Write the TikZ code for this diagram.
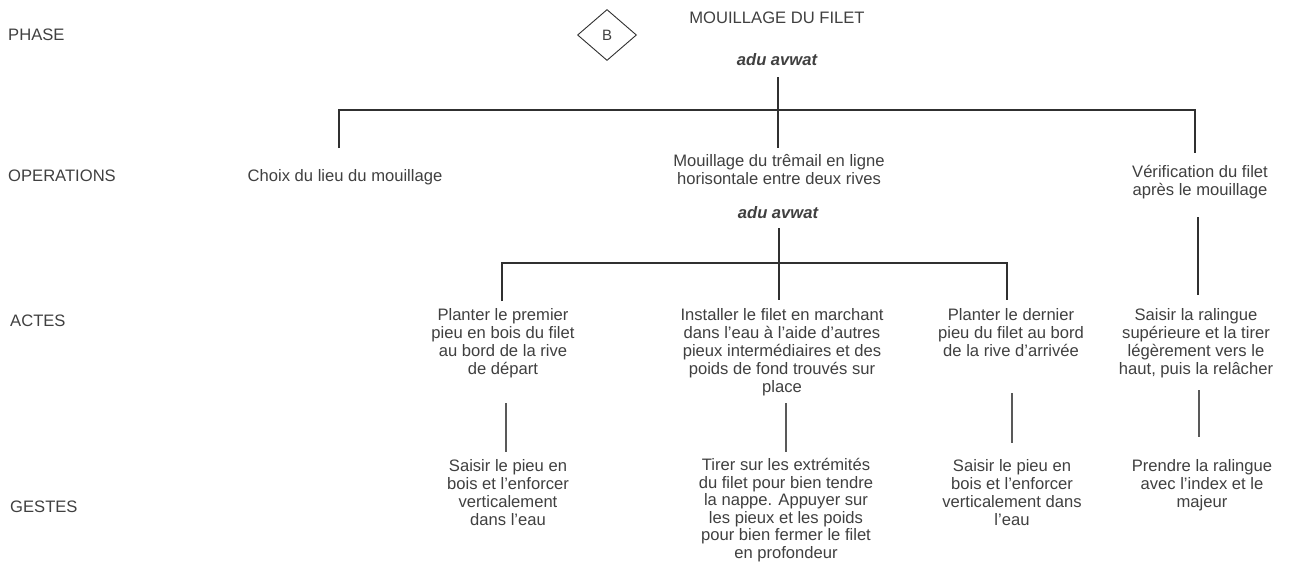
\documentclass[tikz,border=0pt]{standalone}
\usepackage{fontspec}
\setmainfont{Liberation Sans}
\usetikzlibrary{shapes.geometric}
\definecolor{txtc}{HTML}{404040}
\definecolor{lnc}{HTML}{303030}
\begin{document}
\begin{tikzpicture}[x=1pt,y=-1pt,
  txt/.style={inner sep=0pt, align=center, text=txtc, font=\fontsize{16.6}{18}\selectfont},
  lbl/.style={inner sep=0pt, anchor=west, text=txtc, font=\fontsize{16.6}{18}\selectfont},
  tribe/.style={inner sep=0pt, text=txtc, font=\fontsize{16.6}{18}\selectfont\bfseries\itshape},
  ln/.style={draw=lnc, line width=1.2pt},
  thin/.style={draw=lnc!80, line width=1.1pt}]
\useasboundingbox (0,0) rectangle (1295,562);
\fill[white] (0,0) rectangle (1295,562);

% row labels
\node[lbl] (lphase) at (8,35) {PHASE};
\node[lbl] (lops) at (8,176) {OPERATIONS};
\node[lbl] (lactes) at (10,321) {ACTES};
\node[lbl] (lgestes) at (10,507) {GESTES};

% phase
\node[diamond, draw=lnc, line width=0.9pt, minimum width=59pt, minimum height=51pt, inner sep=0pt, text=txtc, font=\fontsize{15}{16}\selectfont] (dB) at (607,35) {B};
\node[txt] (title) at (777,18) {MOUILLAGE DU FILET};
\node[tribe] (adu1) at (777,60) {adu avwat};

% operations
\node[txt, anchor=north] (choix) at (345,169.5) {Choix du lieu du mouillage};
\node[txt, anchor=north] (mouil) at (779,154.5) {Mouillage du trêmail en ligne\\horisontale entre deux rives};
\node[tribe] (adu2) at (778,213) {adu avwat};
\node[txt, anchor=north] (verif) at (1200,165.5) {Vérification du filet\\après le mouillage};

% actes
\node[txt, anchor=north] (act1) at (503,308.5) {Planter le premier\\pieu en bois du filet\\au bord de la rive\\de départ};
\node[txt, anchor=north] (act2) at (782,308.5) {Installer le filet en marchant\\dans l'eau à l'aide d'autres\\pieux intermédiaires et des\\poids de fond trouvés sur\\place};
\node[txt, anchor=north] (act3) at (1011,308.5) {Planter le dernier\\pieu du filet au bord\\de la rive d'arrivée};
\node[txt, anchor=north] (act4) at (1196,308.5) {Saisir la ralingue\\supérieure et la tirer\\légèrement vers le\\haut, puis la relâcher};

% gestes
\node[txt, anchor=north] (g1) at (508,459.5) {Saisir le pieu en\\bois et l'enforcer\\verticalement\\dans l'eau};
\node[txt, anchor=north, font=\fontsize{16.6}{17.5}\selectfont] (g2) at (786,458.5) {Tirer sur les extrémités\\du filet pour bien tendre\\la nappe. Appuyer sur\\les pieux et les poids\\pour bien fermer le filet\\en profondeur};
\node[txt, anchor=north] (g3) at (1012,459.5) {Saisir le pieu en\\bois et l'enforcer\\verticalement dans\\l'eau};
\node[txt, anchor=north] (g4) at (1202,459.5) {Prendre la ralingue\\avec l'index et le\\majeur};

% connector end points
\coordinate (pA) at (778,77);
\coordinate (pB) at (778,148);
\coordinate (bL) at (339,110);
\coordinate (bR) at (1195,110);
\coordinate (cL) at (339,148);
\coordinate (cR) at (1195,153);

\coordinate (qA) at (779,228);
\coordinate (qB) at (779,300);
\coordinate (aL) at (502,263);
\coordinate (aR) at (1007,263);
\coordinate (dL) at (502,301);
\coordinate (dR) at (1007,300);
\coordinate (vA) at (1198,217);
\coordinate (vB) at (1198,295);

\coordinate (e1a) at (506,403); \coordinate (e1b) at (506,452);
\coordinate (e2a) at (786,403); \coordinate (e2b) at (786,452);
\coordinate (e3a) at (1012,393); \coordinate (e3b) at (1012,443);
\coordinate (e4a) at (1199,390); \coordinate (e4b) at (1199,437);

% connectors
\draw[ln] (pA) -- (pB);
\draw[ln] (cL) -- (bL) -- (bR) -- (cR);
\draw[ln] (qA) -- (qB);
\draw[ln] (dL) -- (aL) -- (aR) -- (dR);
\draw[ln] (vA) -- (vB);
\draw[thin] (e1a) -- (e1b);
\draw[thin] (e2a) -- (e2b);
\draw[thin] (e3a) -- (e3b);
\draw[thin] (e4a) -- (e4b);
\end{tikzpicture}
\end{document}
